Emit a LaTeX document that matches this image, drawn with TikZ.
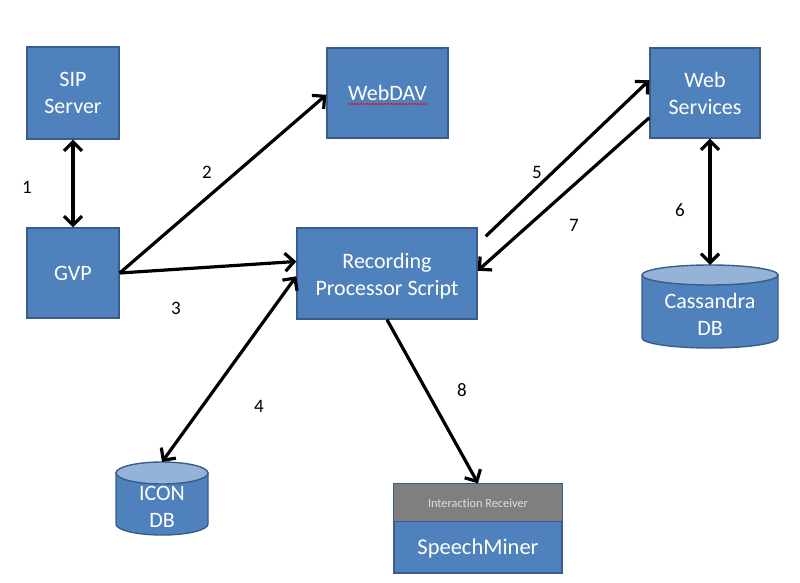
\documentclass[tikz,border=0pt]{standalone}
\usepackage{fontspec}
\setmainfont[Ligatures=NoCommon]{Carlito}
\usetikzlibrary{arrows.meta,calc,decorations.pathmorphing}
\definecolor{boxblue}{HTML}{4F81BD}
\definecolor{boxedge}{HTML}{385D8A}
\definecolor{cyltop}{HTML}{95B3D7}
\definecolor{rcvgray}{HTML}{7F7F7F}
\definecolor{rcvtext}{HTML}{E0E0E0}
\tikzset{
  bluebox/.style={draw=boxedge, fill=boxblue, line width=1.4pt, text=white,
    align=center, font=\fontsize{22}{27}\selectfont, inner sep=0pt},
  conn/.style={line width=3.2pt, -{Straight Barb[length=9pt,width=18pt]}},
  dconn/.style={line width=3.2pt, {Straight Barb[length=9pt,width=18pt]}-{Straight Barb[length=9pt,width=18pt]}},
  numlabel/.style={font=\fontsize{19}{21}\selectfont, text=black},
  cyltext/.style={text=white, align=center, font=\fontsize{22}{27}\selectfont, inner sep=0pt},
  cylbody/.style={fill=boxblue, draw=boxedge, line width=1.4pt},
  cylcap/.style={fill=cyltop, draw=boxedge, line width=1.4pt}
}
\begin{document}
\begin{tikzpicture}[x=1pt,y=-1pt]
\useasboundingbox (0,0) rectangle (800,583);
% boxes
\node[bluebox, minimum width=92pt, minimum height=92pt] (sip) at (73,93) {SIP\\Server};
\node[bluebox, minimum width=121pt, minimum height=90pt] (webdav) at (387.5,93) {WebDAV};
\node[bluebox, minimum width=110pt, minimum height=90pt] (ws) at (705,93) {Web\\Services};
\node[bluebox, minimum width=92pt, minimum height=90pt] (gvp) at (73,273) {GVP};
\node[bluebox, minimum width=180pt, minimum height=91pt] (rps) at (387,273.5) {};
\node[text=white, align=center, font=\fontsize{22}{27}\selectfont, inner sep=0pt] (rpstext) at (387,276) {Recording\\Processor Script};
% spell-check squiggle
\draw[red, line width=0.6pt, decorate, decoration={snake, amplitude=0.7pt, segment length=3pt}]
  (348,104) -- (427,104);
% Cassandra cylinder
\path[cylbody] (642,275) -- (642,338) arc[start angle=180, end angle=0, x radius=68, y radius=10] -- (778,275) -- cycle;
\path[cylcap] (710,275) ellipse[x radius=68, y radius=10];
\coordinate (casstop) at (710,265);
\node[cyltext] (cass) at (710,314) {Cassandra\\DB};
% ICON cylinder
\path[cylbody] (116,473) -- (116,524) arc[start angle=180, end angle=0, x radius=46, y radius=11] -- (208,473) -- cycle;
\path[cylcap] (162,473) ellipse[x radius=46, y radius=11];
\coordinate (icontop) at (162,462);
\node[cyltext] (icon) at (162,507) {ICON\\DB};
% SpeechMiner
\node[draw=boxedge, fill=boxblue, line width=1.4pt, minimum width=168pt, minimum height=89pt, inner sep=0pt] (sm) at (478,528.5) {};
\path[fill=rcvgray, draw=boxedge, line width=1.4pt] (sm.north west) rectangle ($(sm.north east)+(0,38)$);
\node[text=rcvtext, font=\fontsize{12.3}{14}\selectfont] (rcv) at (478,503) {Interaction Receiver};
\node[text=white, font=\fontsize{22.5}{26}\selectfont] (smtext) at (478,548) {SpeechMiner};
% connectors
\draw[dconn] (sip.south) -- (gvp.north);
\draw[conn] (gvp.east) -- ($(webdav.north west)!0.52!(webdav.south west)$);
\draw[conn] (gvp.east) -- ($(rps.north west)!0.37!(rps.south west)$);
\draw[dconn] (icontop) -- ($(rps.north west)!0.53!(rps.south west)$);
\coordinate (fivestart) at ($(rps.north east)+(8,9)$);
\draw[conn] (fivestart) -- ($(ws.north west)!0.36!(ws.south west)$);
\draw[conn] ($(ws.north west)!0.77!(ws.south west)$) -- ($(rps.north east)!0.47!(rps.south east)$);
\draw[dconn] (ws.south -| casstop) -- (casstop);
\draw[conn] (rps.south) -- (sm.north);
% labels
\node[numlabel] (l1) at (27,187) {1};
\node[numlabel] (l2) at (207,172) {2};
\node[numlabel] (l3) at (176,308) {3};
\node[numlabel] (l4) at (259,406) {4};
\node[numlabel] (l5) at (537,172) {5};
\node[numlabel] (l6) at (680,210) {6};
\node[numlabel] (l7) at (574,225) {7};
\node[numlabel] (l8) at (462,390) {8};
\end{tikzpicture}
\end{document}
